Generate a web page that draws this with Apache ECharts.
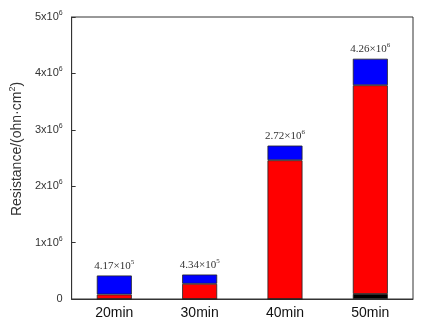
<!DOCTYPE html>
<html><head><meta charset="utf-8">
<script src="https://cdn.jsdelivr.net/npm/echarts@6/dist/echarts.min.js"></script>
<style>html,body{margin:0;padding:0;background:#fff}#c{width:437px;height:328px}</style>
</head><body><div id="c"></div>
<script>
const categories = ['20min', '30min', '40min', '50min'];
const blackVals = [0, 0, 0, 90000];
const redVals = [80000, 270000, 2460000, 3700000];
const blueVals = [337000, 164000, 260000, 470000];
const totalMantissa = ['4.17', '4.34', '2.72', '4.26'];
const totalExponent = ['5', '5', '6', '6'];
const yTicks = [0, 1000000, 2000000, 3000000, 4000000, 5000000];

const chart = echarts.init(document.getElementById('c'));
const border = {borderColor: '#222', borderWidth: 0.8};
chart.setOption({
  animation: false,
  grid: {left: 63, top: 17, right: 24, bottom: 29, show: true, borderColor: '#333', borderWidth: 1},
  xAxis: {
    type: 'category', data: categories,
    axisLine: {lineStyle: {color: '#333', width: 1}},
    axisTick: {show: false},
    axisLabel: {color: '#111', fontSize: 14, fontFamily: 'Liberation Sans', margin: 7}
  },
  yAxis: {
    type: 'value', min: yTicks[0], max: yTicks[yTicks.length - 1], interval: 1000000,
    name: 'Resistance/(ohn·cm{s|2})', nameLocation: 'middle', nameGap: 40,
    nameTextStyle: {color: '#333', fontSize: 14, fontFamily: 'Liberation Sans', padding: [0, 0, 0, 18],
      rich: {s: {fontSize: 9, padding: [0,0,9,0], color: '#333', fontFamily: 'Liberation Sans'}}},
    axisLine: {show: true, lineStyle: {color: '#333', width: 1}},
    axisTick: {show: true, inside: true, length: 4, lineStyle: {color: '#333'}},
    splitLine: {show: false},
    axisLabel: {
      color: '#333', fontSize: 11, fontFamily: 'Liberation Sans', margin: 9,
      formatter: v => v === 0 ? '0' : '{a|' + (v / 1e6) + 'x10}{s|6}',
      rich: {a: {fontSize: 11, color: '#333', fontFamily: 'Liberation Sans'},
             s: {fontSize: 7, color: '#333', padding: [0,0,8,0], fontFamily: 'Liberation Sans'}}
    }
  },
  series: [
    {type: 'bar', stack: 't', data: blackVals, barWidth: 35, itemStyle: Object.assign({color: '#000'}, border)},
    {type: 'bar', stack: 't', data: redVals, barWidth: 35, itemStyle: Object.assign({color: '#ff0000'}, border)},
    {type: 'bar', stack: 't', data: blueVals, barWidth: 35, itemStyle: Object.assign({color: '#0000ff'}, border),
      label: {show: true, position: 'top', distance: 2,
        formatter: p => '{a|' + totalMantissa[p.dataIndex] + '×10}{s|' + totalExponent[p.dataIndex] + '}',
        rich: {a: {fontSize: 11, color: '#333', fontFamily: 'Liberation Serif'},
               s: {fontSize: 7, color: '#333', padding: [0,0,8,0], fontFamily: 'Liberation Serif'}}}}
  ]
});
</script></body></html>
